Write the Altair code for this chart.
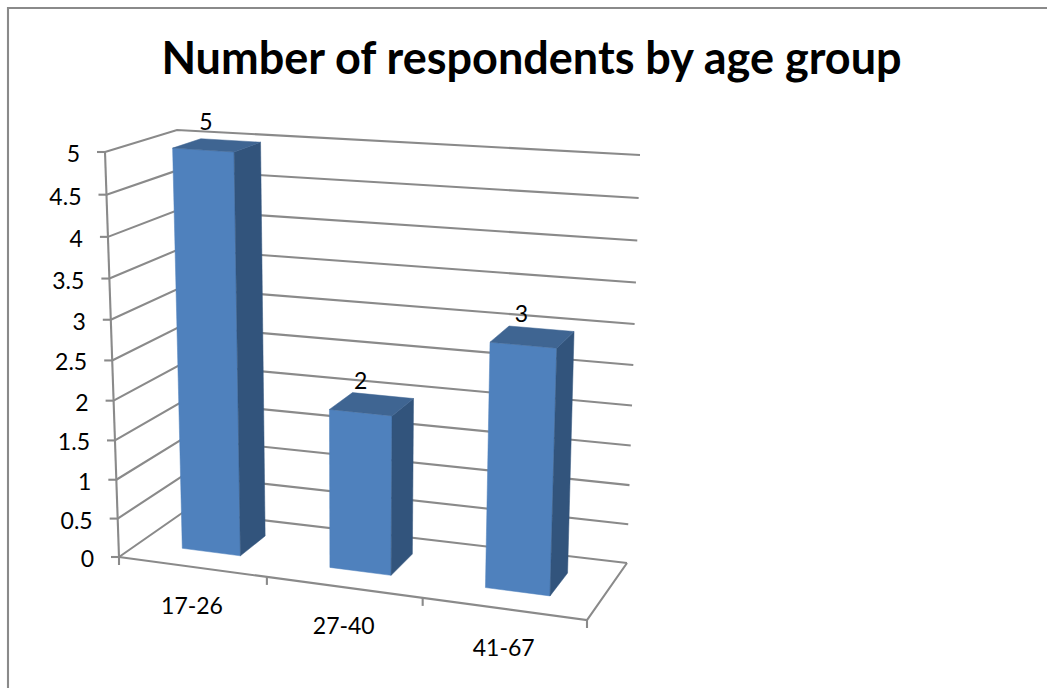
import altair as alt
import pandas as pd

# Chart content
TITLE = "Number of respondents by age group"
categories = ["17-26", "27-40", "41-67"]
respondents = [5, 2, 3]
value_ticks = [0, 0.5, 1, 1.5, 2, 2.5, 3, 3.5, 4, 4.5, 5]
value_tick_labels = ["0", "0.5", "1", "1.5", "2", "2.5", "3", "3.5", "4", "4.5", "5"]
MAX_VALUE = 5

# Canvas and camera set-up for the 3D box
W, H = 1047, 688
FLOOR = dict(fl=(119, 557), fr=(587, 620), bl=(185, 511), br=(627, 563))
ROOF = dict(fl=(105, 152), fr=(602, 186), bl=(177, 130), br=(640, 155))
PERSP_ACROSS = 0.076
PERSP_UP = 0.057
BAR_WIDTH = 0.4            # share of a category slot
BAR_DEPTH = (0.31, 0.72)   # front and back of a bar, as shares of the box depth

GRID = "#8A8A8A"
FRONT, SIDE, TOP = "#4F81BD", "#32547C", "#3F6592"
FONT = "Lato"


def warp(t, k):
    return t * (1 - k) / (1 - k * t)


def bilinear(corners, u, w, i):
    fl, fr, bl, br = corners["fl"][i], corners["fr"][i], corners["bl"][i], corners["br"][i]
    return fl + u * (fr - fl) + w * (bl - fl) + u * w * (fl - fr - bl + br)


def project(t, value, w):
    """Map (share across, value, share of depth) to screen x, y."""
    u = warp(t, PERSP_ACROSS)
    s = warp(value / MAX_VALUE, PERSP_UP)
    return tuple(
        bilinear(FLOOR, u, w, i) + s * (bilinear(ROOF, u, w, i) - bilinear(FLOOR, u, w, i))
        for i in (0, 1)
    )


def path_rows(name, points):
    return [
        {"path": name, "idx": i, "x": p[0], "y": p[1]} for i, p in enumerate(points)
    ]


# Frame around the chart, gridlines, walls and axis ticks
lines = []
lines += path_rows("frame", [(8, H), (8, 8), (W, 8)])
for v in value_ticks:
    pts = [project(0, v, 0), project(0, v, 1), project(1, v, 1)]
    lines += path_rows(f"grid{v}", pts)
    x, y = project(0, v, 0)
    lines += path_rows(f"vtick{v}", [(x - 8, y), (x, y)])
lines += path_rows("front-left", [project(0, 0, 0), project(0, MAX_VALUE, 0)])
lines += path_rows("floor", [project(0, 0, 0), project(1, 0, 0), project(1, 0, 1)])
for k in range(len(categories) + 1):
    x, y = project(k / len(categories), 0, 0)
    lines += path_rows(f"ctick{k}", [(x, y), (x, y + 8)])
lines_df = pd.DataFrame(lines)

# Bar faces
faces = {"front": [], "side": [], "top": []}
n = len(categories)
d0, d1 = BAR_DEPTH
for i, value in enumerate(respondents):
    a = (i + 0.5 - BAR_WIDTH / 2) / n
    b = (i + 0.5 + BAR_WIDTH / 2) / n
    faces["front"] += path_rows(f"b{i}", [project(a, 0, d0), project(b, 0, d0), project(b, value, d0), project(a, value, d0), project(a, 0, d0)])
    faces["side"] += path_rows(f"b{i}", [project(b, 0, d0), project(b, 0, d1), project(b, value, d1), project(b, value, d0), project(b, 0, d0)])
    faces["top"] += path_rows(f"b{i}", [project(a, value, d0), project(b, value, d0), project(b, value, d1), project(a, value, d1), project(a, value, d0)])

# Text anchors follow the projected marks
value_labels = pd.DataFrame([
    dict(zip(("x", "y"), project((i + 0.5) / n, v, (d0 + d1) / 2)), label=str(v))
    for i, v in enumerate(respondents)
])
value_labels["x"] -= 11
value_labels["y"] -= 22

tick_labels = pd.DataFrame([
    dict(zip(("x", "y"), project(0, v, 0)), label=t)
    for v, t in zip(value_ticks, value_tick_labels)
])
tick_labels["x"] -= 25
tick_labels["y"] += 3

cat_labels = pd.DataFrame([
    dict(zip(("x", "y"), project((i + 0.5) / n, 0, 0)), label=c)
    for i, c in enumerate(categories)
])
cat_labels["y"] += 40

x_enc = alt.X("x:Q", scale=alt.Scale(domain=[0, W], range=[0, W], nice=False, zero=False), axis=None)
y_enc = alt.Y("y:Q", scale=alt.Scale(domain=[H, 0], range=[H, 0], nice=False, zero=False), axis=None)

grid_layer = alt.Chart(lines_df).mark_line(color=GRID, strokeWidth=2.1, clip=False).encode(
    x=x_enc, y=y_enc, detail="path:N", order="idx:Q"
)


def face_layer(name, color):
    return alt.Chart(pd.DataFrame(faces[name])).mark_line(
        fill=color, stroke=color, strokeWidth=0.5
    ).encode(x=x_enc, y=y_enc, detail="path:N", order="idx:Q")


def text_layer(df, **kwargs):
    return alt.Chart(df).mark_text(font=FONT, fontSize=23, color="#000000", baseline="middle", **kwargs).encode(
        x=x_enc, y=y_enc, text="label:N"
    )


chart = alt.layer(
    grid_layer,
    face_layer("front", FRONT),
    face_layer("side", SIDE),
    face_layer("top", TOP),
    text_layer(value_labels, align="center"),
    text_layer(tick_labels, align="right"),
    text_layer(cat_labels, align="center"),
).properties(
    width=W,
    height=H,
    padding=0,
    autosize=alt.AutoSizeParams(type="none"),
    background="#FFFFFF",
    title=alt.TitleParams(
        TITLE, font=FONT, fontSize=45, fontWeight="bold", color="#000000",
        anchor="middle", dx=8, dy=119, baseline="alphabetic", offset=0,
    ),
).configure_view(stroke=None)

chart.save("out.html", embed_options={"renderer": "svg", "actions": False})
